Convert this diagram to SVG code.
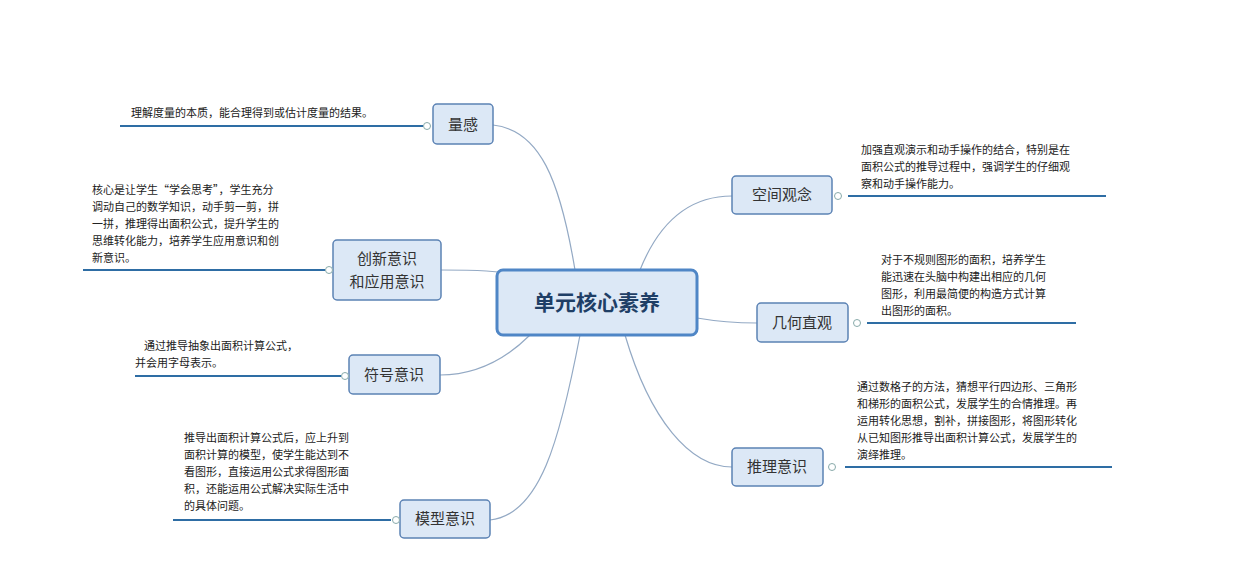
<svg xmlns="http://www.w3.org/2000/svg" width="1252" height="564" viewBox="0 0 1252 564">
<style>
.n{fill:#dce8f6;stroke:#5b82b4;stroke-width:1.5}
.t{font-family:"Noto Sans CJK SC",sans-serif;font-size:15px;fill:#333;text-anchor:middle}
.d{font-family:"Noto Sans CJK SC",sans-serif;font-size:11px;fill:#222}
.u{stroke:#2e6da4;stroke-width:2}
.k{fill:#fff;stroke:#8aa;stroke-width:1}
.c{fill:none;stroke:#93a9c4;stroke-width:1.2}
</style>
<rect width="1252" height="564" fill="#fff"/>
<g id="connectors">
<path class="c" d="M575 270 C560 180 540 130 493 125"/>
<path class="c" d="M540 278 C500 270 470 270 441 270"/>
<path class="c" d="M530 335 C500 365 470 375 440 375"/>
<path class="c" d="M580 335 C560 440 540 515 490 520"/>
<path class="c" d="M640 270 C660 220 690 196 732 196"/>
<path class="c" d="M697 318 C720 322 740 323 757 323"/>
<path class="c" d="M625 335 C650 420 690 467 732 467"/>
</g>
<g id="center"><rect x="497" y="270" width="200" height="65" rx="6" fill="#dce8f6" stroke="#4f86c6" stroke-width="3"/><text class="t" x="597" y="310" style="font-size:21px;font-weight:bold;fill:#1f3f66">单元核心素养</text></g>
<g id="n1"><rect class="n" x="433" y="104" width="60" height="40" rx="4"/><text class="t" x="463" y="130">量感</text>
<line class="u" x1="120" y1="126" x2="423" y2="126"/><circle class="k" cx="427" cy="126" r="3.5"/>
<text class="d" x="131" y="117">理解度量的本质，能合理得到或估计度量的结果。</text></g>
<g id="n2"><rect class="n" x="333" y="240" width="108" height="60" rx="4"/><text class="t" x="387" y="264">创新意识</text><text class="t" x="387" y="287">和应用意识</text>
<line class="u" x1="83" y1="270" x2="325" y2="270"/><circle class="k" cx="329" cy="270" r="3.5"/>
<text class="d" x="92" y="194">核心是让学生“学会思考”，学生充分</text><text class="d" x="92" y="211">调动自己的数学知识，动手剪一剪，拼</text><text class="d" x="92" y="228">一拼，推理得出面积公式，提升学生的</text><text class="d" x="92" y="245">思维转化能力，培养学生应用意识和创</text><text class="d" x="92" y="262">新意识。</text></g>
<g id="n3"><rect class="n" x="349" y="355" width="91" height="39" rx="4"/><text class="t" x="394" y="380">符号意识</text>
<line class="u" x1="135" y1="376" x2="341" y2="376"/><circle class="k" cx="345" cy="376" r="3.5"/>
<text class="d" x="144" y="350">通过推导抽象出面积计算公式，</text><text class="d" x="135" y="367">并会用字母表示。</text></g>
<g id="n4"><rect class="n" x="400" y="500" width="90" height="38" rx="4"/><text class="t" x="445" y="524">模型意识</text>
<line class="u" x1="173" y1="520" x2="391" y2="520"/><circle class="k" cx="396" cy="520" r="3.5"/>
<text class="d" x="184" y="442">推导出面积计算公式后，应上升到</text><text class="d" x="184" y="459">面积计算的模型，使学生能达到不</text><text class="d" x="184" y="476">看图形，直接运用公式求得图形面</text><text class="d" x="184" y="493">积，还能运用公式解决实际生活中</text><text class="d" x="184" y="510">的具体问题。</text></g>
<g id="n5"><rect class="n" x="732" y="176" width="100" height="38" rx="4"/><text class="t" x="782" y="200">空间观念</text>
<circle class="k" cx="838" cy="196" r="3.5"/><line class="u" x1="848" y1="196" x2="1106" y2="196"/>
<text class="d" x="861" y="154">加强直观演示和动手操作的结合，特别是在</text><text class="d" x="861" y="171">面积公式的推导过程中，强调学生的仔细观</text><text class="d" x="861" y="188">察和动手操作能力。</text></g>
<g id="n6"><rect class="n" x="757" y="303" width="91" height="39" rx="4"/><text class="t" x="802" y="328">几何直观</text>
<circle class="k" cx="857" cy="323" r="3.5"/><line class="u" x1="867" y1="323" x2="1076" y2="323"/>
<text class="d" x="881" y="264">对于不规则图形的面积，培养学生</text><text class="d" x="881" y="281">能迅速在头脑中构建出相应的几何</text><text class="d" x="881" y="298">图形，利用最简便的构造方式计算</text><text class="d" x="881" y="315">出图形的面积。</text></g>
<g id="n7"><rect class="n" x="732" y="448" width="91" height="38" rx="4"/><text class="t" x="777" y="472">推理意识</text>
<circle class="k" cx="832" cy="467" r="3.5"/><line class="u" x1="845" y1="467" x2="1112" y2="467"/>
<text class="d" x="857" y="391">通过数格子的方法，猜想平行四边形、三角形</text><text class="d" x="857" y="408">和梯形的面积公式，发展学生的合情推理。再</text><text class="d" x="857" y="425">运用转化思想，割补，拼接图形，将图形转化</text><text class="d" x="857" y="442">从已知图形推导出面积计算公式，发展学生的</text><text class="d" x="857" y="459">演绎推理。</text></g>
</svg>
